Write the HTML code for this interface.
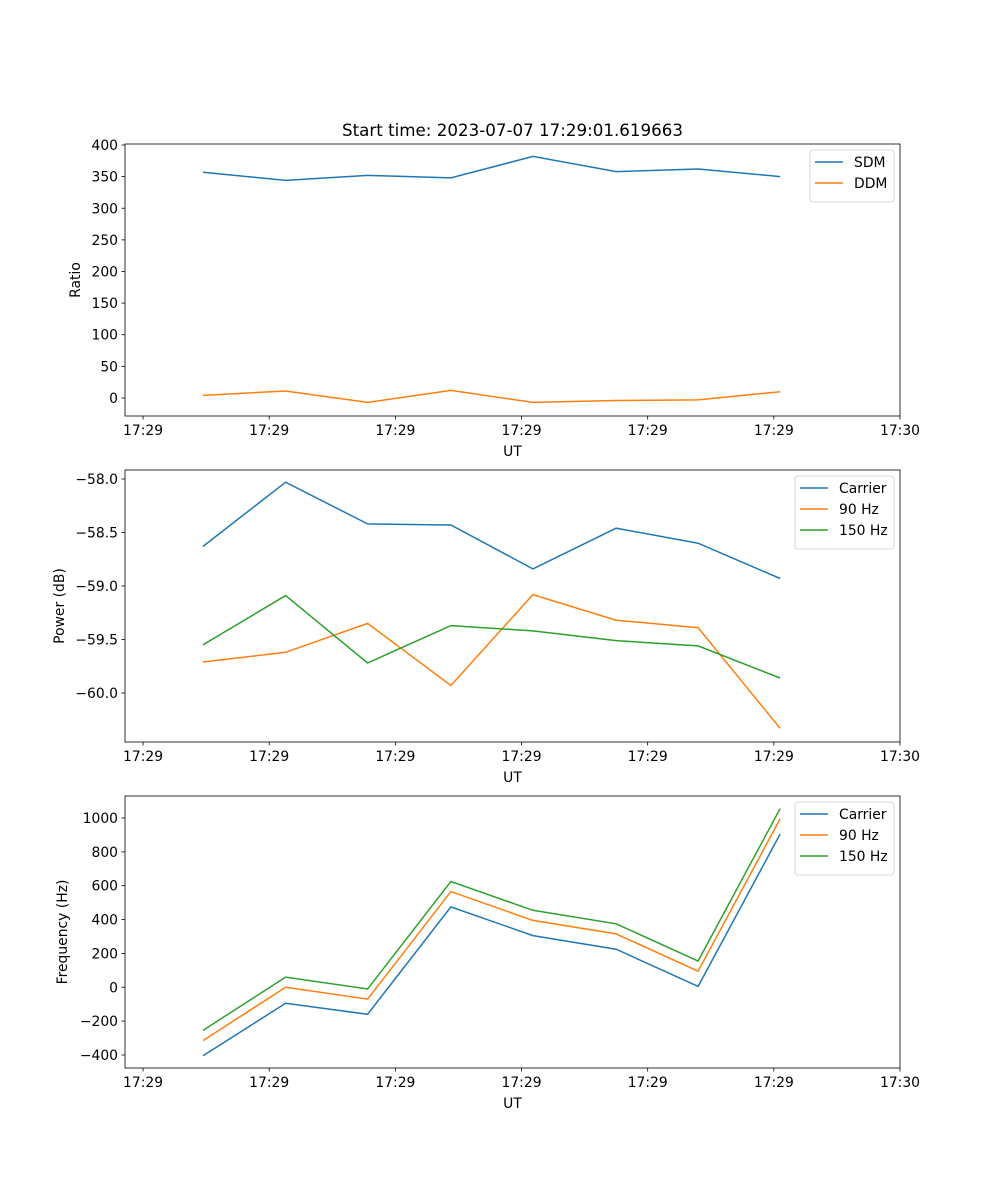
<!DOCTYPE html>
<html><head><meta charset="utf-8"><style>
html,body{margin:0;padding:0;background:#fff}
svg{display:block;font-family:"DejaVu Sans","Liberation Sans",sans-serif}
</style></head><body>
<svg id="fig" width="1000" height="1200" viewBox="0 0 1000 1200" xmlns="http://www.w3.org/2000/svg">
<rect width="1000" height="1200" fill="#fff"/>
<text x="512.5" y="136" font-size="16.7" text-anchor="middle">Start time: 2023-07-07 17:29:01.619663</text>
</svg>
<script>
// shared time axis (seconds from first tick)
const times = [4.75, 11.3, 17.8, 24.4, 30.9, 37.5, 44.0, 50.5];
const xTickVals = [0, 10, 20, 30, 40, 50, 60];
const xTickLabels = ["17:29","17:29","17:29","17:29","17:29","17:29","17:30"];
// panel 1
const ratioTicks = [0,50,100,150,200,250,300,350,400];
const sdm = [357, 344, 352, 348, 382, 358, 362, 350];
const ddm = [4, 11, -7, 12, -7, -4, -3, 10];
// panel 2
const powerTicks = [-60.0,-59.5,-59.0,-58.5,-58.0];
const powerTickLabels = ["\u221260.0","\u221259.5","\u221259.0","\u221258.5","\u221258.0"];
const powCarrier = [-58.63, -58.03, -58.42, -58.43, -58.84, -58.46, -58.60, -58.93];
const pow90 = [-59.71, -59.62, -59.35, -59.93, -59.08, -59.32, -59.39, -60.33];
const pow150 = [-59.55, -59.09, -59.72, -59.37, -59.42, -59.51, -59.56, -59.86];
// panel 3
const freqTicks = [-400,-200,0,200,400,600,800,1000];
const freqTickLabels = ["\u2212400","\u2212200","0","200","400","600","800","1000"];
const frCarrier = [-405, -95, -160, 475, 305, 225, 5, 905];
const fr90 = [-315, 0, -70, 565, 395, 315, 95, 995];
const fr150 = [-255, 60, -10, 625, 455, 375, 155, 1055];

const NS="http://www.w3.org/2000/svg";
const svg=document.getElementById('fig');
function mk(tag,attrs,parent,text){const e=document.createElementNS(NS,tag);for(const k in attrs)e.setAttribute(k,attrs[k]);if(text!==undefined)e.textContent=text;(parent||svg).appendChild(e);return e;}
const L=125,R=900,FS=13.9;
const xs=t=>L+(t-(-1.43))/(60-(-1.43))*(R-L);
function panel(name,top,bot,ymin,ymax,yt,ytl,ylabel,series,leg){
  const g=mk('g',{});
  
  
  const ys=v=>bot-(v-ymin)/(ymax-ymin)*(bot-top);
  series.forEach(s=>{
    const p=mk('polyline',{points:s.data.map((v,i)=>xs(times[i]).toFixed(1)+','+ys(v).toFixed(1)).join(' '),fill:'none',stroke:s.c,'stroke-width':1.5},g);
    
    
  });
  mk('rect',{x:L,y:top,width:R-L,height:bot-top,fill:'none',stroke:'#000','stroke-width':0.8},g);
  xTickVals.forEach((t,i)=>{const x=xs(t);mk('line',{x1:x,x2:x,y1:bot,y2:bot+3.5,stroke:'#000','stroke-width':0.8},g);
    const tx=mk('text',{x:x,y:bot+19,'font-size':FS,'text-anchor':'middle'},g,xTickLabels[i]);
    });
  yt.forEach((v,i)=>{const y=ys(v);mk('line',{x1:L-3.5,x2:L,y1:y,y2:y,stroke:'#000','stroke-width':0.8},g);
    const tx=mk('text',{x:L-7,y:y+5,'font-size':FS,'text-anchor':'end'},g,ytl[i]);
    });
  const xl=mk('text',{x:(L+R)/2,y:bot+40,'font-size':FS,'text-anchor':'middle'},g,'UT');
  
  const yx=leg.yx,ym=(top+bot)/2;
  const yl=mk('text',{x:yx,y:ym,'font-size':FS,'text-anchor':'middle',transform:`rotate(-90 ${yx} ${ym})`},g,ylabel);
  
  const lg=mk('g',{},g);
  
  const lh=series.length*21+10;
  mk('rect',{x:leg.x,y:top+6,width:R-6-leg.x,height:lh,rx:3,fill:'#fff',stroke:'#ccc','stroke-width':0.8,'fill-opacity':0.8},lg);
  series.forEach((s,i)=>{const y=top+18+i*21;
    mk('line',{x1:leg.x+5,x2:leg.x+33,y1:y,y2:y,stroke:s.c,'stroke-width':1.5},lg);
    const t=mk('text',{x:leg.x+44,y:y+5,'font-size':FS},lg,s.n);
    });
}
const B='#1f77b4',O='#ff7f0e',G='#2ca02c';
panel('ratio-panel',144,416,-28.5,401.6,ratioTicks,ratioTicks.map(String),'Ratio',
  [{n:'SDM',data:sdm,c:B},{n:'DDM',data:ddm,c:O}],{x:810,yx:80});
panel('power-panel',470,742,-60.458,-57.916,powerTicks,powerTickLabels,'Power (dB)',
  [{n:'Carrier',data:powCarrier,c:B},{n:'90 Hz',data:pow90,c:O},{n:'150 Hz',data:pow150,c:G}],{x:795,yx:64});
panel('frequency-panel',796,1068,-477,1130,freqTicks,freqTickLabels,'Frequency (Hz)',
  [{n:'Carrier',data:frCarrier,c:B},{n:'90 Hz',data:fr90,c:O},{n:'150 Hz',data:fr150,c:G}],{x:795,yx:67});
</script>
</body></html>
